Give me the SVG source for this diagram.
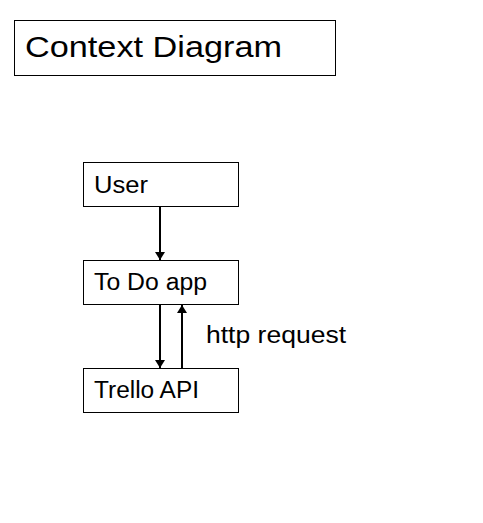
<svg xmlns="http://www.w3.org/2000/svg" width="483" height="523" viewBox="0 0 483 523">
<style>
.box{fill:#fff;stroke:#000;stroke-width:1}
.t{font-family:"Liberation Sans",Arial,sans-serif;fill:#000}
.c{stroke:#000;stroke-width:2;fill:none}
</style>
<defs>
<marker id="ah" viewBox="0 0 8 10" refX="8" refY="5" markerWidth="8" markerHeight="10" markerUnits="userSpaceOnUse" orient="auto">
<path d="M0,0 L8,5 L0,10 Z" fill="#000"/>
</marker>
</defs>
<rect width="483" height="523" fill="#fff"/>
<g id="title">
<rect class="box" x="14.5" y="20.5" width="321" height="55"/>
<text class="t" x="25" y="57" font-size="30" textLength="257" lengthAdjust="spacingAndGlyphs">Context Diagram</text>
</g>
<g id="user">
<rect class="box" x="83.5" y="162.5" width="155" height="44"/>
<text class="t" x="94" y="193" font-size="23" textLength="54" lengthAdjust="spacingAndGlyphs">User</text>
</g>
<g id="todo">
<rect class="box" x="83.5" y="260.5" width="155" height="44"/>
<text class="t" x="94" y="290" font-size="23" textLength="113" lengthAdjust="spacingAndGlyphs">To Do app</text>
</g>
<g id="trello">
<rect class="box" x="83.5" y="368.5" width="155" height="44"/>
<text class="t" x="94" y="398" font-size="23" textLength="105" lengthAdjust="spacingAndGlyphs">Trello API</text>
</g>
<g id="connectors">
<line class="c" x1="160" y1="207" x2="160" y2="260" marker-end="url(#ah)"/>
<line class="c" x1="160" y1="305" x2="160" y2="368" marker-end="url(#ah)"/>
<line class="c" x1="182" y1="368" x2="182" y2="305" marker-end="url(#ah)"/>
<text class="t" x="206" y="343" font-size="23" textLength="140" lengthAdjust="spacingAndGlyphs">http request</text>
</g>
</svg>
